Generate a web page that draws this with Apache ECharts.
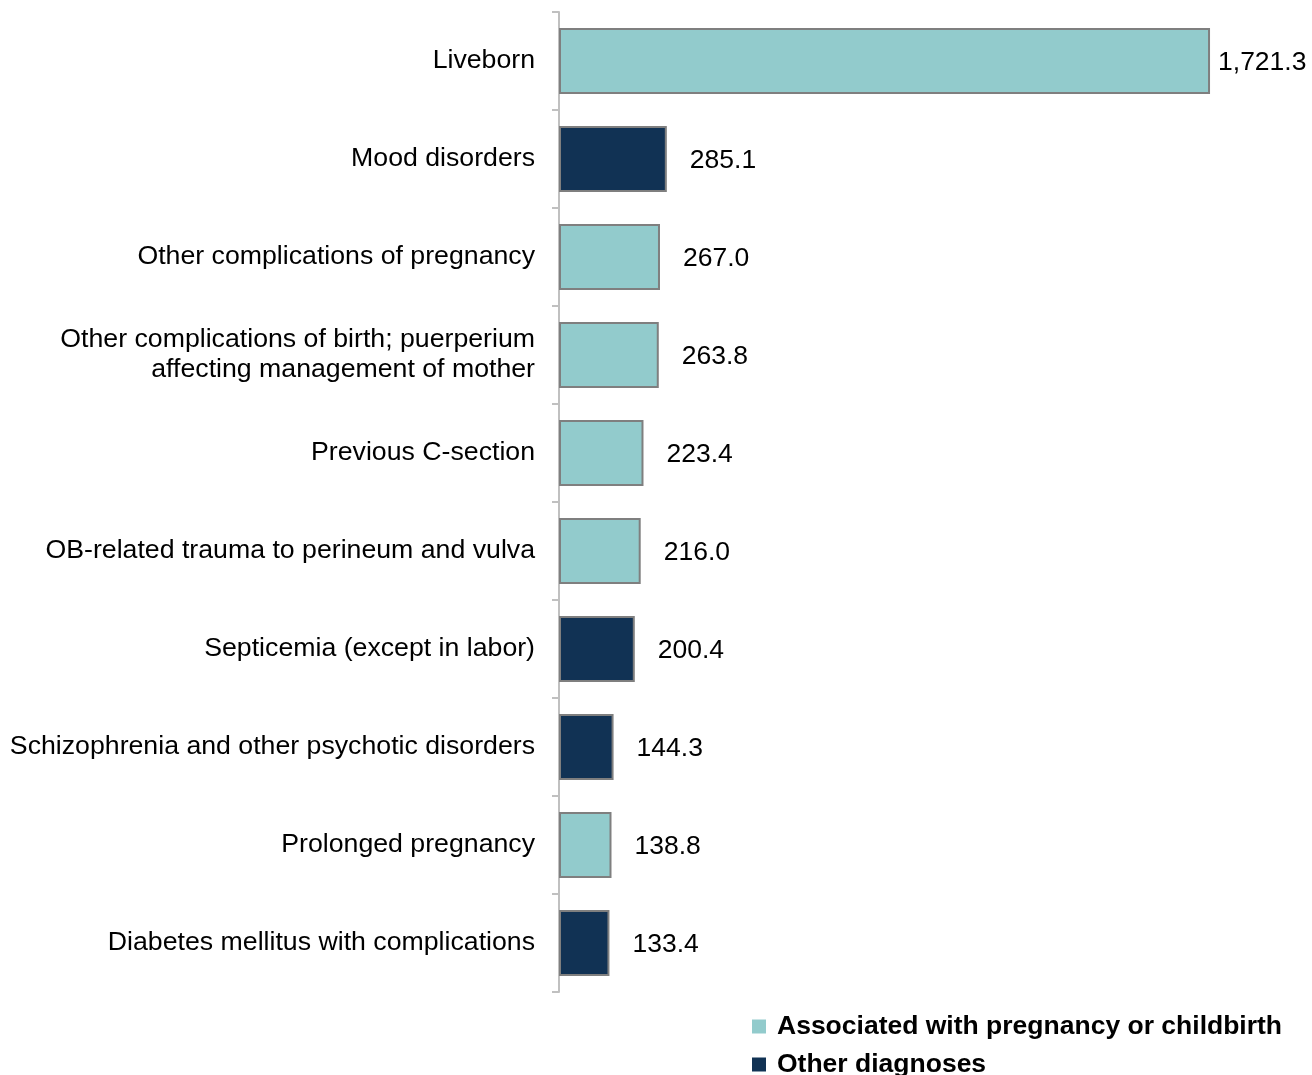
<!DOCTYPE html>
<html><head><meta charset="utf-8">
<script src="https://cdn.jsdelivr.net/npm/echarts@6/dist/echarts.min.js"></script>
<style>html,body{margin:0;padding:0;background:#fff}#c{width:1312px;height:1075px}</style>
</head><body><div id="c"></div>
<script>
const categories = [
  "Liveborn",
  "Mood disorders",
  "Other complications of pregnancy",
  "Other complications of birth; puerperium\naffecting management of mother",
  "Previous C-section",
  "OB-related trauma to perineum and vulva",
  "Septicemia (except in labor)",
  "Schizophrenia and other psychotic disorders",
  "Prolonged pregnancy",
  "Diabetes mellitus with complications"
];
const values = [1721.3, 285.1, 267.0, 263.8, 223.4, 216.0, 200.4, 144.3, 138.8, 133.4];
const pregnancyRelated = [true, false, true, true, true, true, false, false, true, false];
const seriesNames = ["Associated with pregnancy or childbirth", "Other diagnoses"];
const colors = ["#92CBCC", "#113254"];

function fmt(v){ return v.toLocaleString('en-US',{minimumFractionDigits:1,maximumFractionDigits:1}); }
function build(flag){
  return values.map((v,i)=> (pregnancyRelated[i]===flag) ? {value:v, label:{distance: v>1000?8:23}} : '-');
}
const FONT = 'Liberation Sans, Arial';
const chart = echarts.init(document.getElementById('c'));
const common = {
  type:'bar', barWidth:66, barGap:'-100%',
  label:{show:true, position:'right', offset:[0,2], color:'#000', fontSize:26.5, fontFamily:FONT, formatter:p=>fmt(p.value)}
};
const legendBase = {orient:'vertical', itemWidth:14, itemHeight:14, icon:'rect',
  itemStyle:{borderWidth:0},
  textStyle:{fontSize:26.5, fontWeight:'bold', color:'#000', fontFamily:FONT, padding:[0,0,0,6]}};
chart.setOption({
  animation:false,
  grid:{left:559, top:12, bottom:83, width:680.8, containLabel:false},
  xAxis:{type:'value', min:0, max:1800, show:false},
  yAxis:{type:'category', inverse:true, data:categories,
    axisLine:{lineStyle:{color:'#c0c0c0', width:2}},
    axisTick:{show:true, length:7, lineStyle:{color:'#c0c0c0', width:2}},
    axisLabel:{color:'#000', fontSize:26.7, fontFamily:FONT, margin:24, lineHeight:30, align:'right', padding:[4,0,0,0]}
  },
  legend:[
    Object.assign({}, legendBase, {left:747, top:1008, data:[seriesNames[0]]}),
    Object.assign({}, legendBase, {left:747, top:1046, data:[seriesNames[1]]})
  ],
  series:[
    Object.assign({}, common, {name:seriesNames[0], data:build(true), itemStyle:{color:colors[0], borderColor:'#7f7f7f', borderWidth:2}}),
    Object.assign({}, common, {name:seriesNames[1], data:build(false), itemStyle:{color:colors[1], borderColor:'#7f7f7f', borderWidth:2}})
  ]
});
</script></body></html>
